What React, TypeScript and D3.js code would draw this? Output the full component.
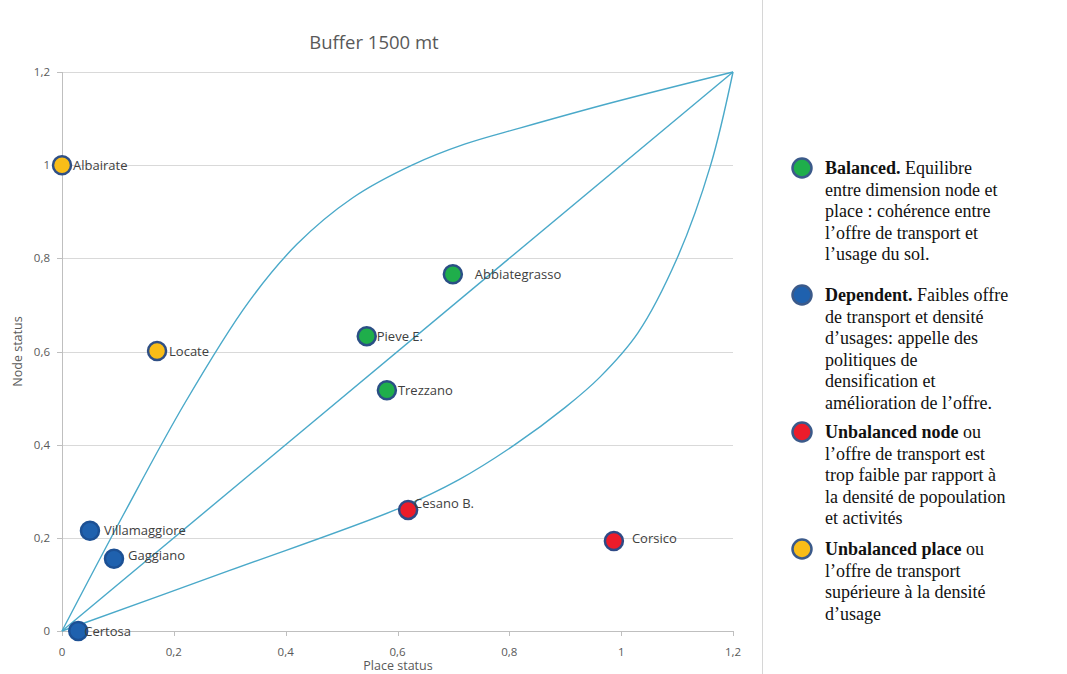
import React from "react";
import * as d3 from "d3";

const stations = ["Albairate", "Abbiategrasso", "Pieve E.", "Locate", "Trezzano", "Cesano B.", "Corsico", "Villamaggiore", "Gaggiano", "Certosa"];
const placeStatus = [0.0, 0.699, 0.545, 0.17, 0.581, 0.619, 0.987, 0.05, 0.093, 0.029];
const nodeStatus = [1.0, 0.766, 0.633, 0.601, 0.517, 0.26, 0.193, 0.215, 0.155, 0.0];
const category = ["place", "balanced", "balanced", "place", "balanced", "node", "node", "dependent", "dependent", "dependent"];

const upperX = [0, 0.11, 0.22, 0.333, 0.42, 0.52, 0.626, 0.72, 0.82, 0.986, 1.2];
const upperY = [0, 0.25, 0.49, 0.705, 0.83, 0.93, 1.0, 1.045, 1.08, 1.135, 1.2];
const lowerX = [0, 0.3, 0.604, 0.71, 0.81, 0.9, 0.962, 1.03, 1.1, 1.16, 1.2];
const lowerY = [0, 0.13, 0.264, 0.325, 0.4, 0.48, 0.545, 0.64, 0.8, 1.0, 1.2];
const diagX = [0, 1.2];
const diagY = [0, 1.2];

const tickValues = [0, 0.2, 0.4, 0.6, 0.8, 1, 1.2];

const legendKeys = ["balanced", "dependent", "node", "place"];
const legendBold = ["Balanced.", "Dependent.", "Unbalanced node", "Unbalanced place"];
const legendLines = [
  [" Equilibre", "entre dimension node et", "place : cohérence entre", "l\u2019offre de transport et", "l\u2019usage du sol."],
  [" Faibles offre", "de transport et densité", "d\u2019usages: appelle des", "politiques de", "densification et", "amélioration de l\u2019offre."],
  [" ou", "l\u2019offre de transport est", "trop faible par rapport à", "la densité de popoulation", "et activités"],
  [" ou", "l\u2019offre de transport", "supérieure à la densité", "d\u2019usage"],
];

// layout / style (not data)
const fills: Record<string, string> = { balanced: "#1fae4b", dependent: "#1f61ae", node: "#ec1c2a", place: "#f9bd18" };
const strokeCol: Record<string, string> = { balanced: "#2a4f85", dependent: "#1c5094", node: "#2f4a86", place: "#2f4f85" };
const labelDx: Record<string, number> = { Albairate: 11, Abbiategrasso: 22, "Pieve E.": 10, Locate: 12, Trezzano: 11, "Cesano B.": 6, Corsico: 18, Villamaggiore: 14, Gaggiano: 14, Certosa: 6 };
const labelDy: Record<string, number> = { "Cesano B.": -6, Corsico: -3, Gaggiano: -3 };
const legendTop = [168, 295, 432, 549];
const lineH = 21.6;

export default function App() {
  const x = d3.scaleLinear().domain([0, 1.2]).range([62, 733]);
  const y = d3.scaleLinear().domain([0, 1.2]).range([631, 72]);
  const fmt = (v: number) => String(v).replace(".", ",");
  const curve = d3.line<[number, number]>().x((d) => x(d[0])).y((d) => y(d[1])).curve(d3.curveCatmullRom.alpha(0.5));
  const straight = d3.line<[number, number]>().x((d) => x(d[0])).y((d) => y(d[1]));
  const upper = upperX.map((v, i) => [v, upperY[i]] as [number, number]);
  const lower = lowerX.map((v, i) => [v, lowerY[i]] as [number, number]);
  const diag = diagX.map((v, i) => [v, diagY[i]] as [number, number]);
  const lineColor = "#4aa9c9";
  const textFont = "'Open Sans', 'Noto Sans', sans-serif";

  return (
    <svg width={1067} height={674} style={{ position: "absolute", left: 0, top: 0, background: "#fff" }}>
      <rect x={0} y={0} width={1067} height={674} fill="#fff" />
      <line x1={762.5} x2={762.5} y1={0} y2={674} stroke="#d6d6d6" strokeWidth={1} />
      <text x={374} y={49} textAnchor="middle" fontFamily={textFont} fontSize={18.5} fill="#595959">Buffer 1500 mt</text>
      {tickValues.filter((t) => t > 0).map((t) => (
        <line key={"g" + t} x1={x(0)} x2={x(1.2)} y1={Math.round(y(t)) + 0.5} y2={Math.round(y(t)) + 0.5} stroke="#d9d9d9" strokeWidth={1} />
      ))}
      <line x1={x(0)} x2={x(1.2)} y1={y(0) + 0.5} y2={y(0) + 0.5} stroke="#bfbfbf" />
      <line x1={x(0) + 0.5} x2={x(0) + 0.5} y1={y(0)} y2={y(1.2)} stroke="#bfbfbf" />
      {tickValues.map((t) => (
        <g key={"t" + t}>
          <line x1={Math.round(x(t)) + 0.5} x2={Math.round(x(t)) + 0.5} y1={y(0)} y2={y(0) + 5} stroke="#bfbfbf" />
          <line x1={x(0) - 5} x2={x(0)} y1={Math.round(y(t)) + 0.5} y2={Math.round(y(t)) + 0.5} stroke="#bfbfbf" />
          <text x={x(t)} y={y(0) + 25} textAnchor="middle" fontFamily={textFont} fontSize={11.5} fill="#595959">{fmt(t)}</text>
          <text x={x(0) - 12} y={y(t) + 4} textAnchor="end" fontFamily={textFont} fontSize={11.5} fill="#595959">{fmt(t)}</text>
        </g>
      ))}
      <text x={398} y={670} textAnchor="middle" fontFamily={textFont} fontSize={12.5} fill="#595959">Place status</text>
      <text transform={`translate(22,${y(0.6)}) rotate(-90)`} textAnchor="middle" fontFamily={textFont} fontSize={12.5} fill="#595959">Node status</text>
      <path d={curve(upper) || ""} fill="none" stroke={lineColor} strokeWidth={1.4} />
      <path d={curve(lower) || ""} fill="none" stroke={lineColor} strokeWidth={1.4} />
      <path d={straight(diag) || ""} fill="none" stroke={lineColor} strokeWidth={1.4} />
      {stations.map((s, i) => (
        <g key={s}>
          <circle cx={x(placeStatus[i])} cy={y(nodeStatus[i])} r={9} fill={fills[category[i]]} stroke={strokeCol[category[i]]} strokeWidth={2.5} />
          <text x={x(placeStatus[i]) + (labelDx[s] || 12)} y={y(nodeStatus[i]) + 4.5 + (labelDy[s] || 0)} fontFamily={textFont} fontSize={13} fill="#404040">{s}</text>
        </g>
      ))}
      {legendKeys.map((k, i) => (
        <g key={k}>
          <circle cx={802} cy={legendTop[i]} r={9.5} fill={fills[k]} stroke="#3b5a8a" strokeWidth={2.5} />
          {legendLines[i].map((ln, j) => (
            <text key={j} x={825} y={legendTop[i] + 6 + j * lineH} fontFamily="'Liberation Serif', 'Times New Roman', serif" fontSize={18} fill="#111">
              {j === 0 ? <tspan fontWeight="bold">{legendBold[i]}</tspan> : null}
              {ln}
            </text>
          ))}
        </g>
      ))}
    </svg>
  );
}
